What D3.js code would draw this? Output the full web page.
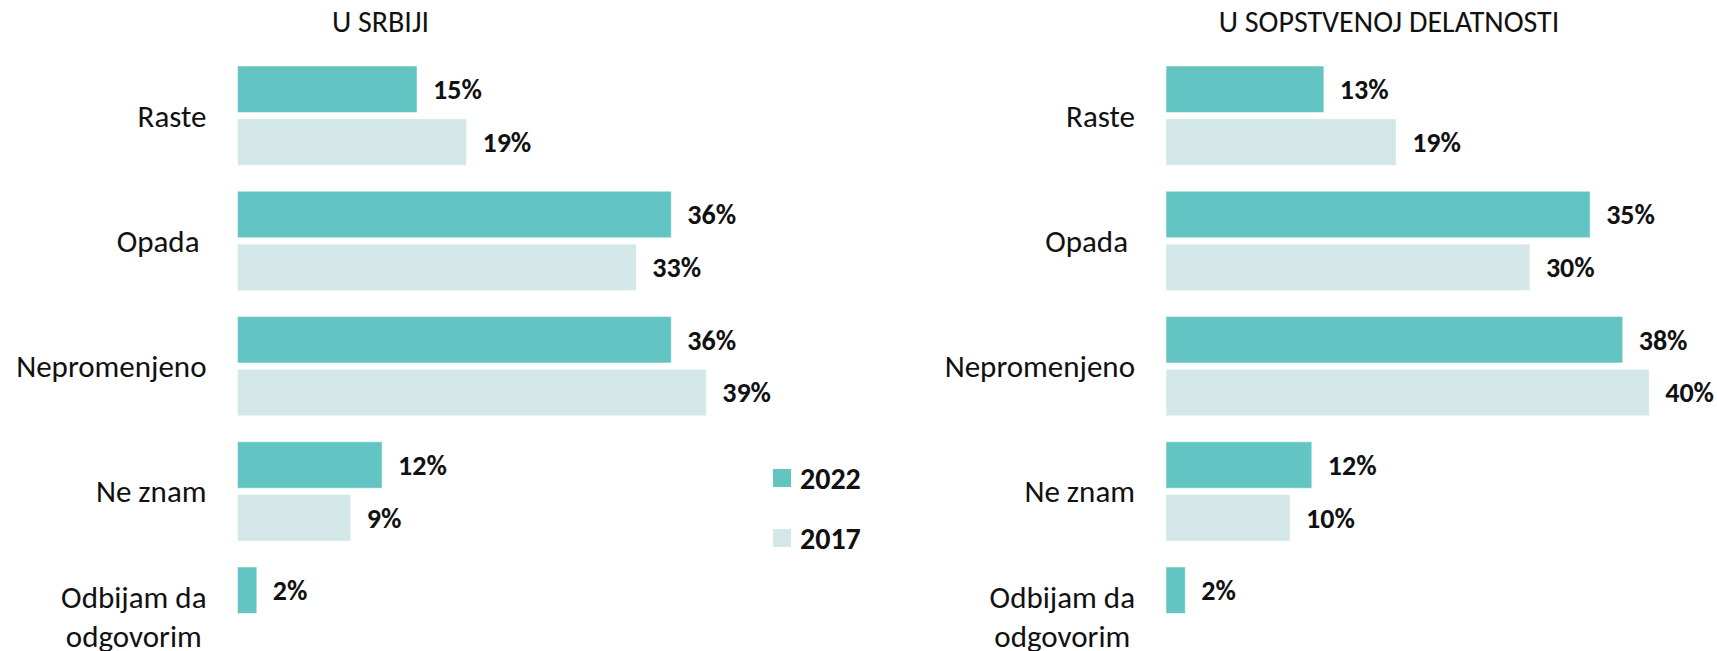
<!DOCTYPE html>
<html>
<head>
<meta charset="utf-8">
<script src="https://cdn.jsdelivr.net/npm/d3@7"></script>
<style>
  html, body { margin: 0; padding: 0; background: #fff; }
  svg { display: block; font-family: Carlito, Calibri, "Liberation Sans Narrow", "Open Sans", sans-serif; }
  text { white-space: pre; }
</style>
</head>
<body>
<div id="chart"></div>
<script>
const width = 1717, height = 651;

// categories (Odbijam da odgovorim has no 2017 value)
const categories = ["Raste", "Opada ", "Nepromenjeno", "Ne znam", "Odbijam da\nodgovorim"];
const years = ["2022", "2017"];

// U SRBIJI
const srbija2022 = [0.149, 0.360, 0.360, 0.120, 0.016];
const srbija2017 = [0.190, 0.331, 0.389, 0.094, null];

// U SOPSTVENOJ DELATNOSTI
const delatnost2022 = [0.131, 0.352, 0.379, 0.121, 0.016];
const delatnost2017 = [0.191, 0.302, 0.401, 0.103, null];

const panels = [
    { title: "U SRBIJI", left: 237.5, titleX: 143, s2022: srbija2022, s2017: srbija2017 },
    { title: "U SOPSTVENOJ DELATNOSTI", left: 1166, titleX: 223, s2022: delatnost2022, s2017: delatnost2017 }
];

const colors = { "2022": "#63C5C3", "2017": "#D3E7E8" };

const svg = d3.select("#chart").append("svg")
    .attr("width", width)
    .attr("height", height)
    .attr("viewBox", `0 0 ${width} ${height}`);

// group bands and bars inside each group
const y0 = d3.scaleBand()
    .domain(categories)
    .range([66, 666.3])
    .paddingInner(0.207)
    .paddingOuter(0);

const y1 = d3.scaleBand()
    .domain(years)
    .range([0, y0.bandwidth()])
    .paddingInner(0.12);

const x = d3.scaleLinear().domain([0, 0.40]).range([0, 482]);
const fmt = d3.format(".0%");

panels.forEach(p => {
    const g = svg.append("g").attr("transform", `translate(${p.left},0)`);
    const rows = categories.map((c, i) => ({ cat: c, "2022": p.s2022[i], "2017": p.s2017[i] }));

    g.append("text")
        .attr("x", p.titleX)
        .attr("y", 32)
        .attr("text-anchor", "middle")
        .attr("font-size", 30)
        .attr("fill", "#111")
        .text(p.title);

    const groups = g.selectAll(".grp")
        .data(rows)
        .join("g")
        .attr("class", "grp")
        .attr("transform", d => `translate(0,${y0(d.cat)})`);

    const bars = groups.selectAll(".bar")
        .data(d => years.filter(yr => d[yr] != null).map(yr => ({ year: yr, value: d[yr] })))
        .join("g")
        .attr("class", "bar");

    bars.append("rect")
        .attr("x", 0)
        .attr("y", d => y1(d.year))
        .attr("width", d => x(d.value))
        .attr("height", y1.bandwidth())
        .attr("fill", d => colors[d.year])
        .attr("stroke", "#fff")
        .attr("stroke-opacity", 0.5)
        .attr("stroke-width", 1);

    bars.append("text")
        .attr("x", d => x(d.value) + 16)
        .attr("y", d => y1(d.year) + y1.bandwidth() / 2)
        .attr("dy", "0.35em")
        .attr("font-size", 28)
        .attr("font-weight", "bold")
        .attr("fill", "#111")
        .text(d => fmt(d.value));

    // category labels, multi-line ones centred on each other and right-aligned as a block
    groups.each(function(d) {
        const lines = d.cat.split("\n");
        const lh = 38.5;
        const t = d3.select(this).append("text")
            .attr("font-size", 31)
            .attr("fill", "#111")
            .attr("text-anchor", "end");
        const cy = y0.bandwidth() / 2;
        lines.forEach((ln, i) => {
            t.append("tspan")
                .attr("x", -31)
                .attr("y", cy + (i - (lines.length - 1) / 2) * lh)
                .attr("dy", "0.35em")
                .text(ln);
        });
        if (lines.length > 1) {
            const widths = t.selectAll("tspan").nodes().map(n => n.getComputedTextLength());
            const maxW = d3.max(widths);
            t.attr("text-anchor", "middle");
            t.selectAll("tspan").attr("x", -31 - maxW / 2);
        }
    });
});

// legend
const legend = svg.append("g").attr("transform", "translate(773,469)");
years.forEach((yr, i) => {
    const lg = legend.append("g").attr("transform", `translate(0,${i * 60})`);
    lg.append("rect").attr("width", 18).attr("height", 18).attr("fill", colors[yr]);
    lg.append("text")
        .attr("x", 27)
        .attr("y", 9)
        .attr("dy", "0.35em")
        .attr("font-size", 30)
        .attr("font-weight", "bold")
        .attr("fill", "#111")
        .text(yr);
});
</script>
</body>
</html>
